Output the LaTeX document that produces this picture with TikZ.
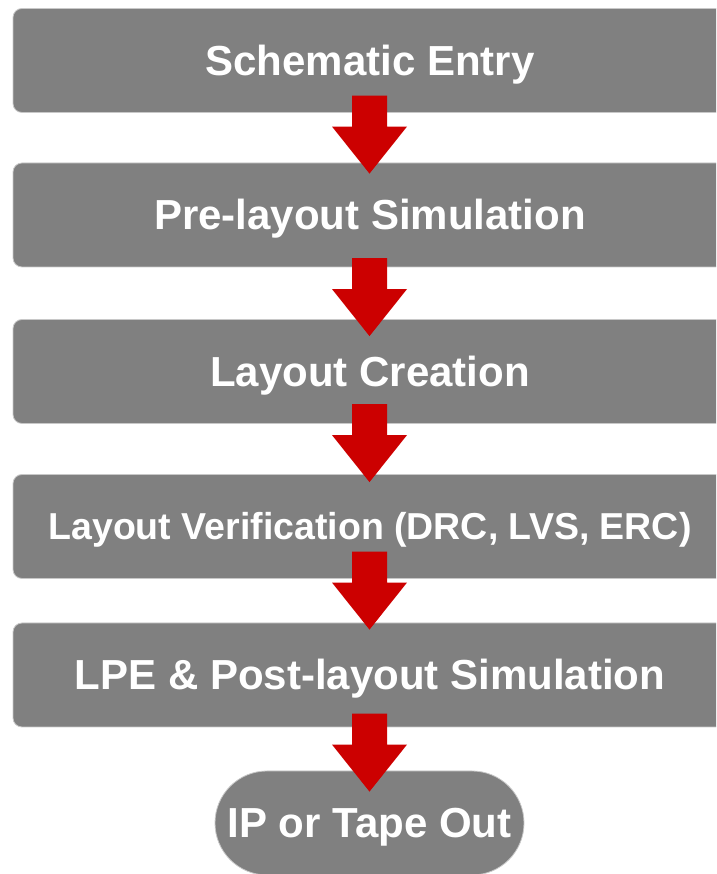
\documentclass[tikz,border=0pt]{standalone}
\usepackage{fontspec}
\setmainfont{Liberation Sans}
\usepackage{xcolor}
\usetikzlibrary{calc,shapes.misc}

\definecolor{stagegray}{HTML}{808080}
\definecolor{rimgray}{HTML}{C8C8C8}
\definecolor{flowred}{HTML}{CC0000}

% block arrow: tip sits #3 inside the top of node #2, below node #1
\newcommand{\flowarrow}[3]{%
  \fill[flowred] ($(#2.north -| #1.south)+(-0.5,-#3)$)
    -- ++(37.5,47) -- ++(-20,0) -- ++(0,31) -- ++(-35,0)
    -- ++(0,-31) -- ++(-20,0) -- cycle;}

\begin{document}
\begin{tikzpicture}[
  x=1pt,y=1pt,
  stage/.style={rectangle,rounded corners=9pt,fill=stagegray,draw=rimgray,line width=0.8pt,
    minimum width=714pt,minimum height=104pt,inner sep=0pt,text=white,
    font=\fontsize{42}{50}\selectfont\bfseries,text height=30pt,text depth=0pt},
  smallstage/.style={stage,font=\fontsize{37.5}{45}\selectfont\bfseries,text height=27pt},
  finish/.style={stage,rounded rectangle,rounded corners=0pt,minimum width=309pt}
]
\useasboundingbox (0,0) rectangle (716,874);
\clip (0,0) rectangle (716,874);

% design flow, top to bottom
\node[stage]      (schem)  at (370,813.5) {Schematic Entry};
\node[stage]      (presim) at (370,659)   {Pre-layout Simulation};
\node[stage]      (layout) at (370,502.5) {Layout Creation};
\node[smallstage] (verify) at (370,347.5) {Layout Verification (DRC, LVS, ERC)};
\node[stage]      (postsim) at (370,199)  {LPE \& Post-layout Simulation};
\node[finish]     (tapeout) at (369.5,51) {IP or Tape Out};

\flowarrow{schem}{presim}{11}
\flowarrow{presim}{layout}{17}
\flowarrow{layout}{verify}{8}
\flowarrow{verify}{postsim}{7}
\flowarrow{postsim}{tapeout}{21}
\end{tikzpicture}
\end{document}
